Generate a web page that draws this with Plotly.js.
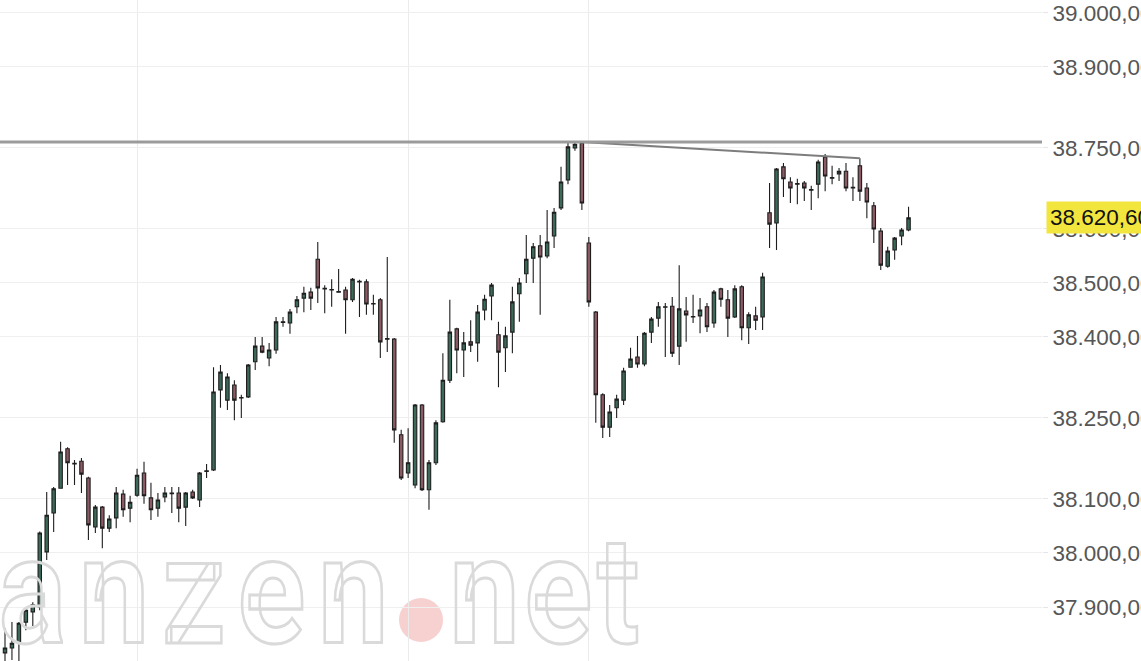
<!DOCTYPE html>
<html>
<head>
<meta charset="utf-8">
<script src="https://cdn.plot.ly/plotly-3.0.1.min.js"></script>
<style>
html,body{margin:0;padding:0;background:#fff;overflow:hidden}
#chart{width:1141px;height:661px}
.annotation[data-index="0"] .annotation-text,
.annotation[data-index="1"] .annotation-text{
  fill:none !important;stroke:#dadada;stroke-width:2.5px;
  transform-box:fill-box;transform-origin:50% 100%;transform:scaleY(1.2)}
.annotation[data-index="0"] .annotation-text{letter-spacing:13px}
.annotation[data-index="1"] .annotation-text{letter-spacing:5px}
</style>
</head>
<body>
<div id="chart"></div>
<script>
// OHLC values (one candle per period)
const openV = [37815,37824,37835,37872,37891,37900,38002,38074,38120,38193,38165,38170,38139,38048,38085,38046,38065,38109,38083,38107,
38148,38102,38083,38104,38110,38111,38085,38113,38098,38151,38154,38302,38283,38311,38287,38289,38354,38383,38361,38376,
38427,38426,38456,38472,38483,38544,38489,38487,38483,38487,38469,38502,38502,38461,38469,38396,38396,38219,38148,38126,
38274,38117,38167,38243,38320,38415,38376,38391,38389,38450,38476,38404,38380,38409,38480,38517,38546,38569,38550,38587,
38639,38691,38750,38759,38574,38446,38293,38233,38269,38283,38344,38363,38350,38409,38435,38455,38457,38383,38448,38437,
38439,38456,38426,38489,38469,38437,38493,38417,38439,38437,38630,38611,38715,38687,38683,38685,38672,38683,38733,38694,
38702,38707,38676,38717,38676,38643,38596,38531,38561,38587,38598];
const highV = [37861,37872,37872,37900,37909,38040,38113,38122,38206,38196,38172,38176,38141,38089,38087,38070,38122,38117,38106,38156,
38169,38130,38111,38122,38122,38122,38113,38117,38150,38165,38344,38348,38333,38320,38293,38350,38400,38400,38389,38437,
38437,38452,38476,38493,38491,38576,38496,38507,38526,38493,38509,38506,38507,38478,38472,38548,38398,38228,38231,38276,
38276,38172,38246,38370,38469,38417,38409,38431,38459,38478,38500,38428,38419,38493,38509,38589,38574,38589,38635,38639,
38715,38759,38760,38761,38585,38448,38296,38274,38293,38343,38380,38402,38409,38437,38465,38463,38474,38533,38474,38478,
38472,38463,38487,38491,38487,38496,38496,38446,38456,38519,38685,38713,38722,38696,38693,38689,38680,38728,38739,38717,
38713,38722,38696,38731,38685,38650,38602,38567,38585,38602,38641];
const lowV = [37800,37802,37790,37857,37865,37894,37987,38039,38119,38126,38126,38111,38024,38037,38009,38039,38046,38067,38057,38104,
38091,38061,38067,38094,38074,38057,38050,38100,38085,38139,38152,38269,38265,38246,38250,38287,38339,38370,38346,38369,
38419,38406,38444,38446,38450,38463,38444,38456,38482,38406,38465,38437,38441,38441,38361,38372,38204,38135,38139,38120,
38115,38080,38163,38241,38315,38333,38326,38372,38354,38431,38431,38307,38335,38370,38428,38500,38500,38441,38546,38565,
38635,38683,38745,38635,38456,38241,38213,38215,38250,38274,38343,38343,38346,38389,38419,38363,38363,38348,38391,38426,
38407,38409,38417,38456,38400,38435,38394,38387,38413,38413,38565,38561,38659,38648,38646,38652,38635,38657,38670,38683,
38689,38670,38652,38652,38620,38574,38524,38528,38543,38570,38596];
const closeV = [37824,37833,37870,37894,37904,38037,38070,38119,38187,38167,38166,38146,38052,38085,38046,38063,38111,38080,38094,38144,
38106,38080,38098,38111,38111,38083,38111,38102,38148,38152,38298,38335,38326,38283,38288,38348,38383,38372,38376,38428,
38428,38446,38469,38481,38472,38491,38490,38488,38484,38469,38507,38503,38461,38462,38391,38397,38228,38139,38167,38274,
38117,38167,38241,38320,38409,38376,38389,38385,38446,38470,38496,38372,38402,38465,38500,38544,38567,38548,38576,38631,
38687,38752,38757,38648,38465,38293,38233,38261,38285,38337,38359,38350,38407,38433,38456,38456,38370,38452,38441,38438,
38450,38419,38483,38470,38435,38489,38417,38441,38431,38511,38609,38711,38693,38676,38684,38676,38673,38724,38698,38695,
38707,38676,38677,38670,38650,38600,38533,38559,38583,38598,38620.6];

// price-axis ticks (German number format as in the reference)
const tickValues = [39000, 38900, 38750, 38600, 38500, 38400, 38250, 38100, 38000, 37900];
const tickLabels = ["39.000,00", "38.900,00", "38.750,00", "38.600,00", "38.500,00", "38.400,00", "38.250,00", "38.100,00", "38.000,00", "37.900,00"];
const lastPriceLabel = "38.620,60";
// candles where vertical session grid lines sit
const sessionMarks = [19, 58, 84];
// trend line anchor candles (peak highs)
const trendFrom = 83, trendTo = 123;

const idx = openV.map((_, i) => i);
const lastClose = closeV[closeV.length - 1];
const peak = Math.max(...highV);

const traces = [
  {
    type: 'candlestick',
    x: idx, open: openV, high: highV, low: lowV, close: closeV,
    increasing: {line: {color: '#1e1e1e', width: 1.1}, fillcolor: '#3c6a59'},
    decreasing: {line: {color: '#1e1e1e', width: 1.1}, fillcolor: '#8b5a63'},
    whiskerwidth: 0,
    hoverinfo: 'skip',
    showlegend: false
  },
  {
    type: 'scatter', mode: 'lines',
    x: [idx[trendFrom], idx[trendTo]], y: [highV[trendFrom], highV[trendTo]],
    line: {color: '#7d7d7d', width: 2},
    hoverinfo: 'skip', showlegend: false
  }
];

const W = 1042; // plot area width in px
const wmFont = {family: 'Roboto, sans-serif', size: 125, weight: 700, color: '#dadada'};
const layout = {
  width: 1141, height: 661,
  margin: {l: 0, r: 1141 - W, t: 0, b: 0},
  paper_bgcolor: '#ffffff', plot_bgcolor: '#ffffff',
  boxgap: 0.3,
  xaxis: {
    type: 'linear', range: [-0.72, 149.2],
    tickvals: sessionMarks, showticklabels: false, ticks: '',
    showgrid: true, gridcolor: '#ebebeb', gridwidth: 1,
    zeroline: false, showline: false, rangeslider: {visible: false}, fixedrange: true
  },
  yaxis: {
    side: 'right', range: [37800, 39024],
    tickvals: tickValues, ticktext: tickLabels,
    ticks: 'outside', ticklen: 5, tickcolor: '#e6e6e6',
    tickfont: {family: 'Liberation Sans, Arial, sans-serif', size: 22.5, color: '#565656'},
    showgrid: true, gridcolor: '#efefef', gridwidth: 1,
    zeroline: false, showline: false, automargin: false, fixedrange: true
  },
  shapes: [
    {type: 'circle', xref: 'paper', yref: 'paper', x0: 399 / W, x1: 443 / W, y0: 19 / 661, y1: 63 / 661,
     fillcolor: '#f7d0d0', line: {width: 0}, layer: 'below'},
    {type: 'line', xref: 'paper', yref: 'y', x0: 0, x1: 1, y0: peak, y1: peak,
     line: {color: '#9b9b9b', width: 3}, layer: 'above'}
  ],
  annotations: [
    {xref: 'paper', yref: 'paper', x: 350 / W, y: 0, xanchor: 'right', yanchor: 'bottom', yshift: -21,
     text: 'finanzen', showarrow: false, font: wmFont},
    {xref: 'paper', yref: 'paper', x: 455 / W, y: 0, xanchor: 'left', yanchor: 'bottom', yshift: -21,
     text: 'net', showarrow: false, font: wmFont},
    {xref: 'paper', yref: 'y', x: 1, y: lastClose, xanchor: 'left', yanchor: 'middle', xshift: 4,
     text: lastPriceLabel, showarrow: false, bgcolor: '#f2e63e', borderpad: 3,
     font: {family: 'Liberation Sans, Arial, sans-serif', size: 22.5, color: '#111111'}}
  ]
};

Plotly.newPlot('chart', traces, layout, {displayModeBar: false, staticPlot: true});
</script>
</body>
</html>
